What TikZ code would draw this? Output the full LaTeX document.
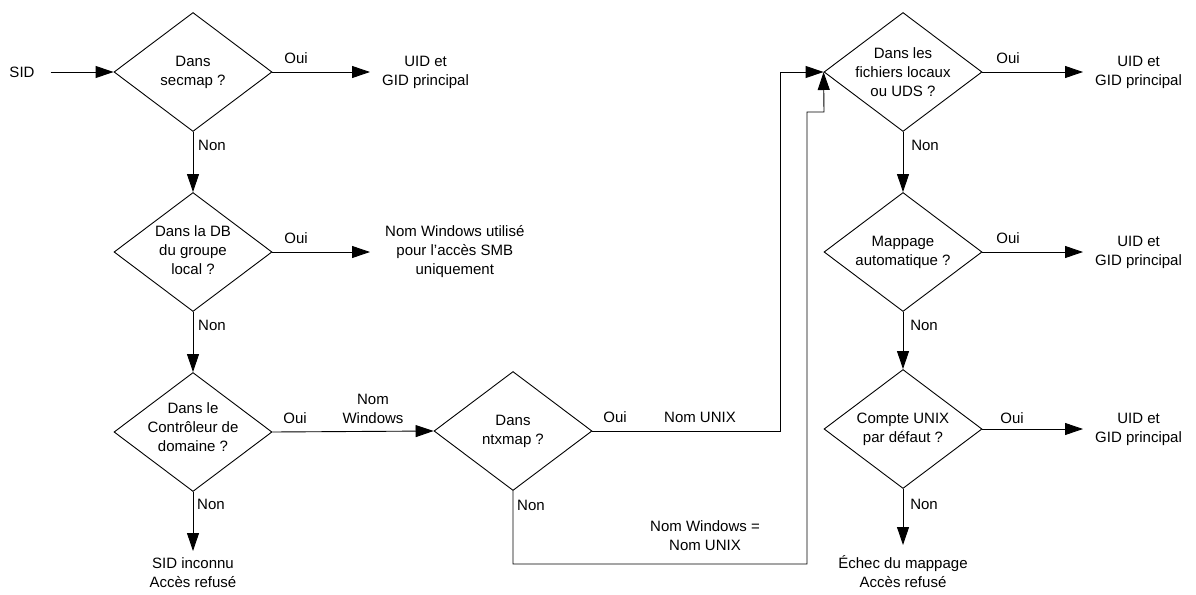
\documentclass[tikz,border=0pt]{standalone}
\usepackage{fontspec}
\setmainfont{Liberation Sans}
\usetikzlibrary{shapes.geometric,arrows.meta}
\begin{document}
\begin{tikzpicture}[x=1pt,y=-1pt,
  every node/.style={font=\fontsize{15}{19}\selectfont},
  dia/.style={draw, shape=diamond, minimum width=158pt, minimum height=119pt, inner sep=0pt, line width=0.9pt},
  txt/.style={align=center, inner sep=0pt},
  lab/.style={inner sep=0pt},
  res/.style={align=center, inner xsep=12pt, inner ysep=0pt, anchor=west},
  resb/.style={align=center, inner xsep=0pt, anchor=north},
  arr/.style={line width=0.9pt, -{Triangle[length=18pt,width=12pt]}}]
\useasboundingbox (0,0) rectangle (1196,594);

% decisions
\node[dia] (d1) at (193,72) {};
\node[txt] (q1) at (193,72) {Dans\\secmap ?};
\node[dia] (d2) at (193,252) {};
\node[txt] (q2) at (193,250) {Dans la DB\\du groupe\\local ?};
\node[dia] (d3) at (193,432) {};
\node[txt] (q3) at (193,427) {Dans le\\Contrôleur de\\domaine ?};
\node[dia] (d4) at (513,431) {};
\node[txt] (q4) at (513,431) {Dans\\ntxmap ?};
\node[dia] (d5) at (903,72) {};
\node[txt] (q5) at (903,72) {Dans les\\fichiers locaux\\ou UDS ?};
\node[dia] (d6) at (903,252) {};
\node[txt] (q6) at (903,252) {Mappage\\automatique ?};
\node[dia] (d7) at (903,429) {};
\node[txt] (q7) at (903,429) {Compte UNIX\\par défaut ?};

% start and results
\node[lab, inner xsep=16pt] (sid) at (22,72) {SID};
\node[res] (t1) at (370,72) {UID et\\GID principal};
\node[res, inner xsep=15pt] (t2) at (370,252) {Nom Windows utilisé\\pour l'accès SMB\\uniquement};
\node[resb, inner ysep=6pt] (t3) at (193,551) {SID inconnu\\Accès refusé};
\node[res] (t5) at (1083,72) {UID et\\GID principal};
\node[res] (t6) at (1083,252) {UID et\\GID principal};
\node[res] (t7) at (1083,429) {UID et\\GID principal};
\node[resb, inner ysep=10pt] (t8) at (903,545) {Échec du mappage\\Accès refusé};

% connectors
\draw[arr] (sid.east) -- (d1.west);
\draw[arr] (d1.east) -- (t1.west);
\draw[arr] (d1.south) -- (d2.north);
\draw[arr] (d2.east) -- (t2.west);
\draw[arr] (d2.south) -- (d3.north);
\draw[arr] (d3.east) -- (d4.west);
\draw[arr] (d3.south) -- (t3.north);
\coordinate (j1) at (780,72);
\draw[arr] (d4.east) -| (j1) -- (d5.west);
\coordinate (j2) at (807,564);
\coordinate (j3) at (824,112);
\draw[arr] (d4.south) |- (j2) |- (j3) -- (d5.west);
\draw[arr] (d5.east) -- (t5.west);
\draw[arr] (d5.south) -- (d6.north);
\draw[arr] (d6.east) -- (t6.west);
\draw[arr] (d6.south) -- (d7.north);
\draw[arr] (d7.east) -- (t7.west);
\draw[arr] (d7.south) -- (t8.north);

% labels
\node[lab] (l1o) at (296,58) {Oui};
\node[lab] (l1n) at (212,145) {Non};
\node[lab] (l2o) at (296,238) {Oui};
\node[lab] (l2n) at (212,325) {Non};
\node[lab] (l3o) at (295,418) {Oui};
\node[lab, align=center] (l3w) at (373,408.5) {Nom\\Windows};
\node[lab] (l3n) at (211,504) {Non};
\node[lab] (l4o) at (615,417) {Oui};
\node[lab] (l4u) at (700,417) {Nom UNIX};
\node[lab] (l4n) at (531,505) {Non};
\node[lab, align=center] (l4e) at (705,536) {Nom Windows =\\Nom UNIX};
\node[lab] (l5o) at (1008,58) {Oui};
\node[lab] (l5n) at (925,145) {Non};
\node[lab] (l6o) at (1008,238) {Oui};
\node[lab] (l6n) at (924,325) {Non};
\node[lab] (l7o) at (1012,418) {Oui};
\node[lab] (l7n) at (924,504) {Non};
\end{tikzpicture}
\end{document}
